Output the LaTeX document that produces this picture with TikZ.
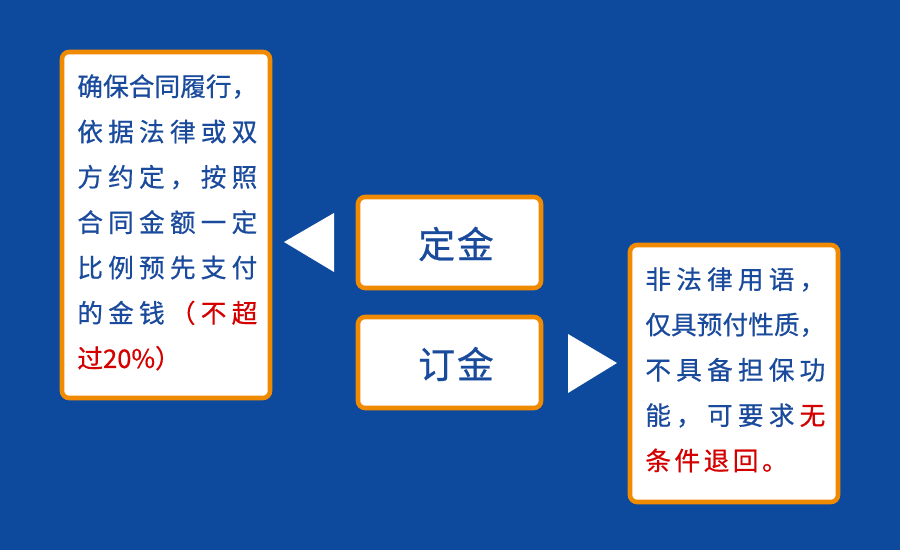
\documentclass[tikz,border=0pt]{standalone}
\usepackage{fontspec}
\newfontfamily\cjk[FakeBold=0.6]{Noto Sans CJK SC}
\definecolor{bg}{HTML}{0D4A9E}
\definecolor{ob}{HTML}{F08A00}
\definecolor{tb}{HTML}{1A4A9C}
\definecolor{rd}{HTML}{D40000}
\newcommand{\jl}[1]{\makebox[3.6cm][s]{#1}}
\begin{document}
\begin{tikzpicture}[x=0.02cm,y=-0.02cm,
  box/.style={draw=ob,line width=2.6pt,fill=white,rounded corners=4pt},
  txt/.style={anchor=north west,align=left,inner sep=0pt,text=tb,font=\cjk\fontsize{14.6}{25.8}\selectfont},
  lbl/.style={text=tb,font=\cjk\fontsize{21}{24}\selectfont},
  tri/.style={fill=white,draw=none}]
\fill[bg] (0,0) rectangle (900,550);
\useasboundingbox (0,0) rectangle (900,550);
\draw[box] (62,52) rectangle (270,398);
\draw[box] (358,197) rectangle (541,288);
\draw[box] (358,317) rectangle (541,408);
\draw[box] (630,245) rectangle (838,502);
\node[lbl] (dj) at (456,244) {定\hspace{1pt}金};
\node[lbl] (ddj) at (456,364) {订\hspace{1pt}金};
\node[txt] (lt) at (77,74) {\jl{确\hfil 保\hfil 合\hfil 同\hfil 履\hfil 行\hfil ，}\\
\jl{依\hfil 据\hfil 法\hfil 律\hfil 或\hfil 双}\\
\jl{方\hfil 约\hfil 定\hfil ，\hfil 按\hfil 照}\\
\jl{合\hfil 同\hfil 金\hfil 额\hfil 一\hfil 定}\\
\jl{比\hfil 例\hfil 预\hfil 先\hfil 支\hfil 付}\\
\jl{的\hfil 金\hfil 钱\hfil \textcolor{rd}{（}\hfil \textcolor{rd}{不}\hfil \textcolor{rd}{超}}\\
\textcolor{rd}{过20\%）}};
\node[txt] (rt) at (645,267) {\jl{非\hfil 法\hfil 律\hfil 用\hfil 语\hfil ，}\\
\jl{仅\hfil 具\hfil 预\hfil 付\hfil 性\hfil 质\hfil ，}\\
\jl{不\hfil 具\hfil 备\hfil 担\hfil 保\hfil 功}\\
\jl{能\hfil ，\hfil 可\hfil 要\hfil 求\hfil \textcolor{rd}{无}}\\
\textcolor{rd}{条\hspace{2pt}件\hspace{2pt}退\hspace{2pt}回\hspace{2pt}。}};
\fill[tri] (284,242) -- (334,213) -- (334,272) -- cycle;
\fill[tri] (617,363) -- (568,334) -- (568,393) -- cycle;
\end{tikzpicture}
\end{document}
